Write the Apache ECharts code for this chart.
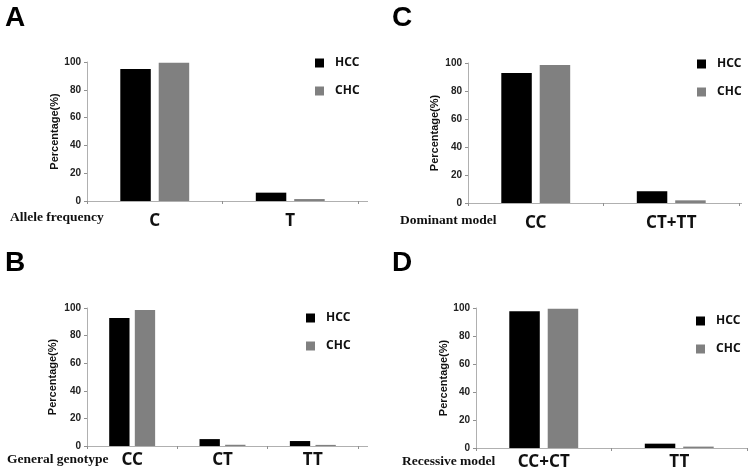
<!DOCTYPE html>
<html>
<head>
<meta charset="utf-8">
<script src="https://cdn.jsdelivr.net/npm/echarts@6/dist/echarts.min.js"></script>
<style>html,body{margin:0;padding:0;background:#fff}#c{width:750px;height:474px}</style>
</head>
<body>
<div id="c"></div>
<script>
var seriesNames = ['HCC', 'CHC'];
var yTicks = [0, 20, 40, 60, 80, 100];
var yTitle = 'Percentage(%)';

var catsA = ['C', 'T'];
var hccA = [95, 6];
var chcA = [99.5, 1.4];

var catsB = ['CC', 'CT', 'TT'];
var hccB = [92.8, 5, 3.6];
var chcB = [98.6, 0.9, 0.8];

var catsC = ['CC', 'CT+TT'];
var hccC = [92.9, 8.4];
var chcC = [98.6, 1.9];

var catsD = ['CC+CT', 'TT'];
var hccD = [97.6, 3.1];
var chcD = [99.5, 1.0];

var panelLetters = ['A', 'B', 'C', 'D'];
var xTitles = ['Allele frequency', 'General genotype', 'Dominant model', 'Recessive model'];

var panels = [
  {cats: catsA, hcc: hccA, chc: chcA, grid: {left: 87, top: 62, width: 271, height: 139}, legend: {left: 310, top: 52}, letter: {x: 5, y: 4}, xt: {x: 10, y: 219}, ext: 368, lm: 12, yt: 55},
  {cats: catsB, hcc: hccB, chc: chcB, grid: {left: 87, top: 308, width: 271, height: 138}, legend: {left: 301, top: 307}, letter: {x: 5, y: 249}, xt: {x: 7, y: 461}, ext: 368, lm: 6, yt: 53},
  {cats: catsC, hcc: hccC, chc: chcC, grid: {left: 468, top: 63, width: 271, height: 140}, legend: {left: 692, top: 53}, letter: {x: 392, y: 4}, xt: {x: 400, y: 222}, ext: 742, lm: 12, yt: 435},
  {cats: catsD, hcc: hccD, chc: chcD, grid: {left: 476, top: 308, width: 271, height: 140}, legend: {left: 691, top: 310}, letter: {x: 392, y: 249}, xt: {x: 402, y: 463}, ext: 747, lm: 6, yt: 444}
];

var colors = ['#000000', '#808080'];
var option = {
  animation: false,
  backgroundColor: '#ffffff',
  grid: [], xAxis: [], yAxis: [], series: [], legend: [], graphic: []
};

panels.forEach(function (p, i) {
  option.grid.push({left: p.grid.left, top: p.grid.top, width: p.grid.width, height: p.grid.height, containLabel: false});
  option.xAxis.push({
    type: 'category', gridIndex: i, data: p.cats,
    axisLine: {show: true, lineStyle: {color: '#b0b0b0', width: 1}},
    axisTick: {show: true, length: 3, lineStyle: {color: '#909090'}},
    axisLabel: {fontFamily: 'Noto Sans', fontWeight: 'bold', fontSize: 17, color: '#111', margin: p.lm}
  });
  option.yAxis.push({
    type: 'value', gridIndex: i, min: yTicks[0], max: yTicks[yTicks.length - 1], interval: 20,
    axisLine: {show: true, lineStyle: {color: '#b0b0b0', width: 1}},
    axisTick: {show: true, length: 3, lineStyle: {color: '#909090'}},
    splitLine: {show: false},
    axisLabel: {fontFamily: 'Liberation Sans', fontWeight: 'bold', fontSize: 10, color: '#222', margin: 6}
  });
  [p.hcc, p.chc].forEach(function (d, k) {
    option.series.push({
      type: 'bar', name: seriesNames[k], xAxisIndex: i, yAxisIndex: i, data: d,
      barWidth: '22.5%', barGap: '26%',
      itemStyle: {color: colors[k]}
    });
  });
  option.legend.push({
    data: seriesNames, orient: 'vertical', left: p.legend.left, top: p.legend.top,
    icon: 'rect', itemWidth: 9, itemHeight: 9, itemGap: 16,
    textStyle: {fontFamily: 'Noto Sans', fontWeight: 'bold', fontSize: 12, color: '#111', padding: [0, 0, 0, 6]}
  });
  option.graphic.push({type: 'text', left: p.letter.x, top: p.letter.y,
    style: {text: panelLetters[i], font: 'bold 28px "Liberation Sans"', fill: '#000'}});
  option.graphic.push({type: 'text', left: p.xt.x, top: p.xt.y - 8,
    style: {text: xTitles[i], font: 'bold 13.5px "Liberation Serif"', fill: '#111'}});
  option.graphic.push({type: 'text', x: p.yt, y: p.grid.top + p.grid.height / 2, rotation: Math.PI / 2,
    style: {text: yTitle, font: 'bold 11px "Liberation Sans"', fill: '#111', align: 'center', verticalAlign: 'middle'}});
  option.graphic.push({type: 'line', shape: {x1: p.grid.left + p.grid.width, y1: p.grid.top + p.grid.height + 0.5, x2: p.ext, y2: p.grid.top + p.grid.height + 0.5},
    style: {stroke: '#b0b0b0', lineWidth: 1}});
});

var chart = echarts.init(document.getElementById('c'), null, {renderer: 'canvas'});
chart.setOption(option);
</script>
</body>
</html>
